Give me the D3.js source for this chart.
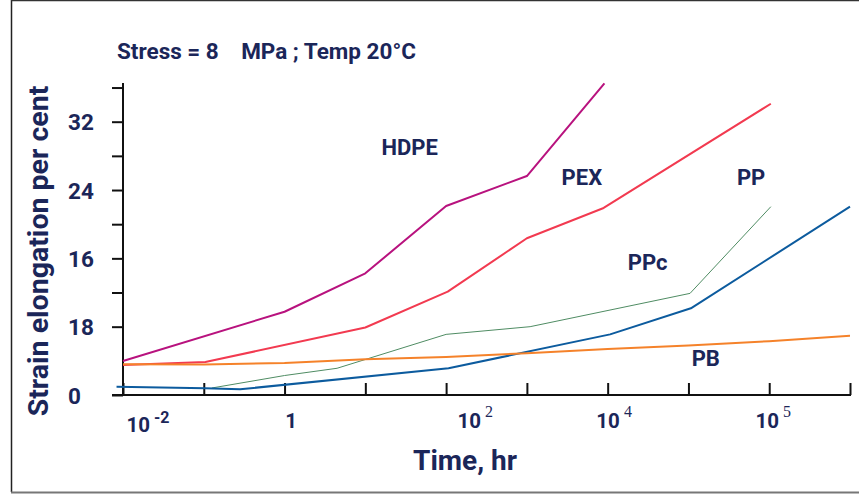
<!DOCTYPE html>
<html>
<head>
<meta charset="utf-8">
<script src="https://cdn.jsdelivr.net/npm/d3@7"></script>
<style>
  html, body { margin: 0; padding: 0; background: #fff; }
  svg { display: block; }
  text { font-family: Roboto, "Open Sans", sans-serif; fill: #1b2659; }
</style>
</head>
<body>
<svg id="chart" width="859" height="495"></svg>
<script>
// ---- data (x in tick-position units along the time axis, y in axis units) ----
const xTickPositions = [0, 1, 2, 3, 4, 5, 6, 7, 8, 9];
const xTickLabels = [
  { x: 0.31, base: "10", exp: "-2", serif: false },
  { x: 2.08, base: "1",  exp: "",   serif: false },
  { x: 4.36, base: "10", exp: "2",  serif: true },
  { x: 6.08, base: "10", exp: "4",  serif: true },
  { x: 8.05, base: "10", exp: "5",  serif: true }
];
const yTickValues = [0, 8, 12, 16, 20, 24, 28, 32, 36];
const yTickLabels = { 0: "0", 8: "18", 16: "16", 24: "24", 32: "32" };

const seriesNames = ["HDPE", "PEX", "PPc", "PP", "PB"];
const hdpe = [[0, 3.98], [2, 9.75], [3, 14.25], [4, 22.13], [5, 25.64], [5.96, 36.5]];
const pex  = [[0, 3.5], [1.02, 3.86], [3, 7.9], [4.02, 12.1], [5, 18.35], [5.95, 21.9], [8.02, 34.1]];
const ppc  = [[1.1, 0.82], [2, 2.28], [2.65, 3.13], [4, 7.1], [5.04, 8.0], [7.02, 11.9], [8.02, 22.05]];
const pp   = [[-0.08, 0.97], [1.02, 0.78], [1.45, 0.67], [4.03, 3.13], [6.03, 7.1], [7.03, 10.15], [9.0, 22.05]];
const pb   = [[0, 3.59], [1, 3.57], [2, 3.75], [3, 4.2], [4, 4.45], [5, 4.9], [6, 5.39], [7, 5.8], [8, 6.3], [9, 6.94]];
const seriesData = [hdpe, pex, ppc, pp, pb];
const seriesColors = ["#b8127e", "#f23a50", "#4f8c63", "#0c5b9e", "#f5822a"];
const seriesWidths = [2, 2, 1, 2, 2];
const labelPos = [[3.2, 28.1], [5.43, 24.6], [6.25, 14.6], [7.6, 24.6], [7.04, 3.34]];

const titleText = "Stress = 8    MPa ; Temp 20°C";
const yTitle = "Strain elongation per cent";
const xTitle = "Time, hr";

// ---- drawing ----
const svg = d3.select("#chart");
const x = d3.scaleLinear().domain([0, 9]).range([123, 850]);
const y = d3.scaleLinear().domain([0, 32]).range([395, 121.7]);

// frame
svg.append("line").attr("x1", 11.5).attr("x2", 11.5).attr("y1", 0).attr("y2", 492)
  .attr("stroke", "#222").attr("stroke-width", 1.5);
svg.append("line").attr("x1", 11).attr("x2", 859).attr("y1", 0.5).attr("y2", 0.5)
  .attr("stroke", "#333").attr("stroke-width", 1.5);
svg.append("line").attr("x1", 11).attr("x2", 859).attr("y1", 492.5).attr("y2", 492.5)
  .attr("stroke", "#777").attr("stroke-width", 2);

// title
svg.append("text").attr("x", 117).attr("y", 59).attr("font-size", 22.5)
  .attr("font-weight", 700).style("white-space", "pre").text(titleText);

// y axis
const yAxis = d3.axisLeft(y).tickValues(yTickValues).tickSize(11).tickFormat(d => yTickLabels[d] || "");
const gy = svg.append("g").attr("transform", "translate(123,0)").call(yAxis);
gy.select(".domain").remove();
gy.selectAll(".tick line").attr("stroke", "#111").attr("stroke-width", 2);
gy.selectAll(".tick text").attr("x", -55).attr("text-anchor", "start")
  .attr("font-size", 22.5).attr("font-weight", 700).attr("fill", "#1b2659")
  .attr("font-family", "Roboto, sans-serif").attr("dy", "0.36em");
svg.append("line").attr("x1", 123).attr("x2", 123).attr("y1", 83).attr("y2", 396)
  .attr("stroke", "#111").attr("stroke-width", 2);

// x axis
const xAxis = d3.axisBottom(x).tickValues(xTickPositions).tickSize(-12).tickFormat("");
const gx = svg.append("g").attr("transform", "translate(0,395)").call(xAxis);
gx.select(".domain").remove();
gx.selectAll(".tick line").attr("stroke", "#111").attr("stroke-width", 2);
svg.append("line").attr("x1", 112).attr("x2", 851).attr("y1", 395).attr("y2", 395)
  .attr("stroke", "#111").attr("stroke-width", 2);

// x tick labels
const xl = svg.append("g").selectAll("text").data(xTickLabels).join("text")
  .attr("x", d => x(d.x)).attr("y", (d, i) => i === 0 ? 432 : 428)
  .attr("text-anchor", "middle").attr("font-size", 20.5).attr("font-weight", 700);
xl.append("tspan").text(d => d.base);
xl.filter(d => d.exp).append("tspan")
  .attr("dx", 4).attr("dy", d => d.serif ? -11 : -9)
  .attr("font-size", 16)
  .attr("font-family", d => d.serif ? "Liberation Serif, serif" : "Roboto, sans-serif")
  .attr("font-weight", d => d.serif ? 400 : 700)
  .text(d => d.exp);

// axis titles
svg.append("text").attr("transform", "translate(48,251) rotate(-90)")
  .attr("text-anchor", "middle").attr("font-size", 28.5).attr("font-weight", 700).text(yTitle);
svg.append("text").attr("x", 465).attr("y", 470).attr("text-anchor", "middle")
  .attr("font-size", 28).attr("font-weight", 700).text(xTitle);

// series lines
const line = d3.line().x(d => x(d[0])).y(d => y(d[1]));
svg.append("g").selectAll("path").data(seriesData).join("path")
  .attr("d", line).attr("fill", "none")
  .attr("stroke", (d, i) => seriesColors[i])
  .attr("stroke-width", (d, i) => seriesWidths[i])
  .attr("stroke-linejoin", "round");

// series labels
svg.append("g").selectAll("text").data(seriesNames).join("text")
  .attr("x", (d, i) => x(labelPos[i][0])).attr("y", (d, i) => y(labelPos[i][1]))
  .attr("font-size", 22).attr("font-weight", 700).text(d => d);
</script>
</body>
</html>
